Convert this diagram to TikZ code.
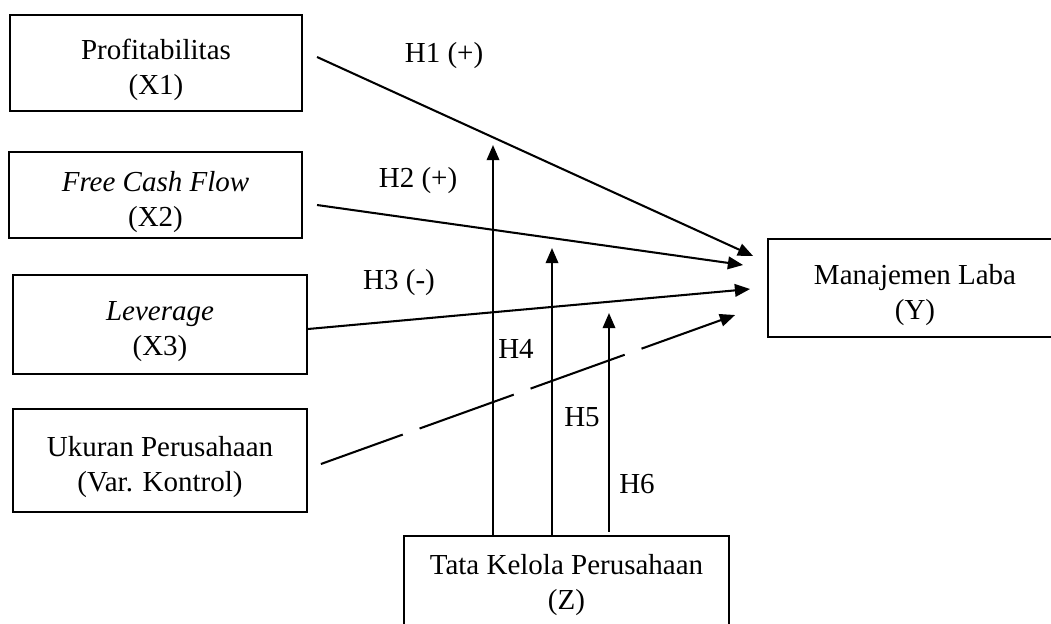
\documentclass[tikz,border=0pt]{standalone}
\usepackage{fontspec}
\setmainfont{Liberation Serif}
\usetikzlibrary{positioning, calc, arrows.meta}

\newcommand{\toppad}{\rule{0pt}{14pt}}

\begin{document}
\begin{tikzpicture}[
          x=0.4138pt, y=-0.4138pt,
          every node/.style={font=\fontsize{12}{14.5}\selectfont},
          var/.style={draw, line width=0.9pt, minimum width=121.5pt, minimum height=40.5pt, align=center, inner sep=2pt},
          hyp/.style={inner sep=0pt},
          arrow/.style={-{Triangle[length=6.3pt, width=5.2pt]}, line width=0.85pt},
          dasharrow/.style={arrow, dash pattern=on 41.4pt off 7.4pt, dash phase=5.4pt}
      ]
      \clip (0,0) rectangle (1051,623);

      % Nodes
      \node[var, minimum width=120.8pt, minimum height=39.7pt] (x1) at (156,63) {\toppad Profitabilitas\\(X1)};
      \node[var, minimum width=121.2pt, minimum height=35.6pt] (x2) at (155.5,195) {\toppad\textit{Free Cash Flow}\\(X2)};
      \node[var, minimum height=41pt] (x3) at (160,324.5) {\toppad\textit{Leverage}\\(X3)};
      \node[var, minimum height=42.6pt] (uk) at (160,460.5) {\toppad Ukuran Perusahaan\\(Var. Kontrol)};
      \node[var] (y) at (915,288) {\toppad Manajemen Laba\\(Y)};
      \node[var, minimum width=134.5pt] (z) at (566.5,585) {Tata Kelola Perusahaan\\(Z)};

      % Moderating tips
      \coordinate (t4) at (493,145);
      \coordinate (t5) at (552,248);
      \coordinate (t6) at (609,313);

      % Arrows
      \draw[arrow] ($(x1.east)+(14,-6)$) -- ($(y.west)+(-14,-32)$);
      \draw[arrow] ($(x2.east)+(14,10)$) -- ($(y.west)+(-24,-23)$);
      \draw[arrow] ($(x3.east)+(0,4.5)$) -- ($(y.west)+(-17,1)$);
      \draw[dasharrow] ($(uk.east)+(13,3.5)$) -- ($(y.west)+(-32,27)$);
      \draw[arrow] (z.north -| t4) -- (t4);
      \draw[arrow] (z.north -| t5) -- (t5);
      \draw[arrow] ($(z.north -| t6)+(0,-3)$) -- (t6);

      % Labels
      \node[hyp] (h1) at (444,56) {H1 (+)};
      \node[hyp] (h2) at (418,181) {H2 (+)};
      \node[hyp] (h3) at (399,283) {H3 (-)};
      \node[hyp] (h4) at (516,349) {H4};
      \node[hyp] (h5) at (582,417) {H5};
      \node[hyp] (h6) at (637,484) {H6};

\end{tikzpicture}
\end{document}
